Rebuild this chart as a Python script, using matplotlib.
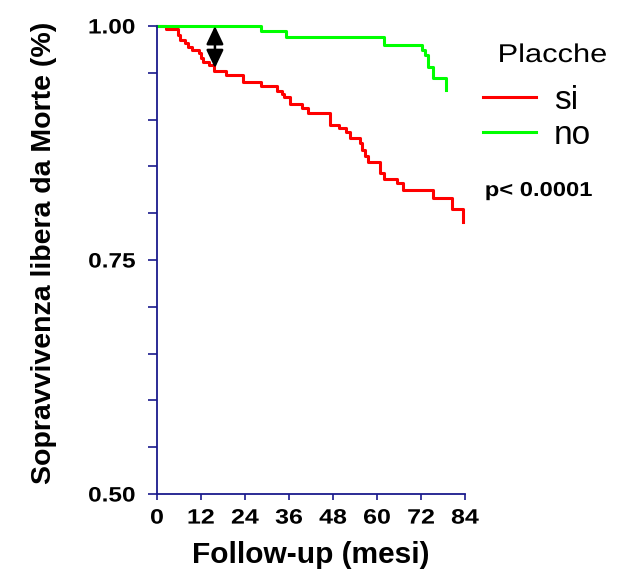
import numpy as np
import matplotlib.pyplot as plt
from matplotlib.patheffects import AbstractPathEffect
from matplotlib.transforms import Affine2D

plt.rcParams['font.family'] = ['Liberation Sans', 'DejaVu Sans']

# Kaplan-Meier steps: time of event (months) and survival after it
t_si = [0, 2.5, 5.8, 6.3, 7.6, 8.5, 9.5, 11.5, 11.9, 12.5, 14.3, 15.5, 18.8, 23.4,
        28.4, 32.6, 34.0, 34.5, 36.3, 39.5, 41.3, 47.2, 49.5, 51.5, 52.5, 55.3,
        56.0, 56.6, 57.6, 60.8, 61.8, 65.5, 67.2, 75.2, 80.4, 83.5]
s_si = [1.0, 0.9968, 0.990, 0.985, 0.9815, 0.978, 0.974, 0.971, 0.966, 0.962, 0.958,
        0.952, 0.948, 0.9405, 0.936, 0.9306, 0.927, 0.9245, 0.9163, 0.912, 0.9074,
        0.894, 0.8907, 0.887, 0.8807, 0.8747, 0.868, 0.861, 0.855, 0.8426, 0.837,
        0.832, 0.825, 0.816, 0.804, 0.791]

t_no = [0, 28.4, 35.2, 62.0, 72.2, 73.0, 74.0, 75.2, 78.8]
s_no = [1.0, 0.9943, 0.9886, 0.980, 0.974, 0.969, 0.9565, 0.944, 0.9316]

x_ticks = [0, 12, 24, 36, 48, 60, 72, 84]
y_ticks = [0.50, 0.75, 1.00]
y_minor = np.arange(0.50, 1.001, 0.05)

arrow_t = 15.8
arrow_top, arrow_bottom = 1.0, 0.955

axis_col = '#1a1a8c'


# widen glyphs horizontally around an anchor (0 left, 0.5 centre, 1 right)
class HStretch(AbstractPathEffect):
    def __init__(self, sx, anchor=0.5):
        super().__init__()
        self.sx = sx
        self.anchor = anchor

    def draw_path(self, renderer, gc, tpath, affine, rgbFace=None):
        ext = tpath.get_extents()
        x0 = ext.x0 + self.anchor * ext.width
        stretch = Affine2D().translate(-x0, 0).scale(self.sx, 1).translate(x0, 0)
        renderer.draw_path(gc, tpath, stretch + affine, rgbFace)


fig = plt.figure(figsize=(6.32, 5.69), dpi=100)
ax = fig.add_axes([0.2484, 0.1318, 0.4874, 0.8225])

ax.step(t_si, s_si, where='post', color='#ff0000', lw=2.2, clip_on=False, label='si')
ax.step(t_no, s_no, where='post', color='#00ff00', lw=2.2, clip_on=False, label='no')

ax.annotate('', xy=(arrow_t, arrow_bottom), xytext=(arrow_t, arrow_top),
            arrowprops=dict(arrowstyle='<|-|>,head_length=1.1,head_width=0.52',
                            color='black', lw=1.8, mutation_scale=10,
                            shrinkA=0, shrinkB=0))

ax.set_xlim(0, 84)
ax.set_ylim(0.5, 1.0)
ax.set_xticks(x_ticks)
ax.set_xticklabels([str(v) for v in x_ticks])
ax.set_yticks(y_ticks)
ax.set_yticks(y_minor, minor=True)
ax.set_yticklabels(['%.2f' % v for v in y_ticks])

for side in ['top', 'right']:
    ax.spines[side].set_visible(False)
for side in ['left', 'bottom']:
    ax.spines[side].set_color(axis_col)
    ax.spines[side].set_linewidth(1.3)

ax.tick_params(axis='y', which='both', direction='out', length=6.5, width=1.2,
               color=axis_col, labelsize=15, pad=9)
ax.tick_params(axis='x', direction='out', length=4.5, width=1.2, color=axis_col,
               labelsize=15, pad=6)
for lbl in ax.get_xticklabels():
    lbl.set_fontweight('bold')
    lbl.set_path_effects([HStretch(1.2, 0.5)])
for lbl in ax.get_yticklabels():
    lbl.set_fontweight('bold')
    lbl.set_path_effects([HStretch(1.17, 1.0)])

ax.set_xlabel('Follow-up (mesi)', fontsize=21.5, fontweight='bold', labelpad=9.5)
ax.set_ylabel('Sopravvivenza libera da Morte (%)', fontsize=20.5, fontweight='bold')
ax.yaxis.set_label_coords(-0.325, 0.515)

ax.legend(loc='upper left', bbox_to_anchor=(483 / 632, 1 - 85 / 569),
          bbox_transform=fig.transFigure, frameon=False, fontsize=24,
          handlelength=1.58, handletextpad=0.55, labelspacing=0.12,
          borderpad=0, borderaxespad=0)

fig.text(498 / 632, 1 - 62 / 569, 'Placche', fontsize=18.5, ha='left', va='baseline',
         path_effects=[HStretch(1.2, 0.0)])
fig.text(485 / 632, 1 - 196 / 569, 'p< 0.0001', fontsize=14.5, fontweight='bold',
         ha='left', va='baseline', path_effects=[HStretch(1.18, 0.0)])

fig.savefig('out.png', dpi=100)
